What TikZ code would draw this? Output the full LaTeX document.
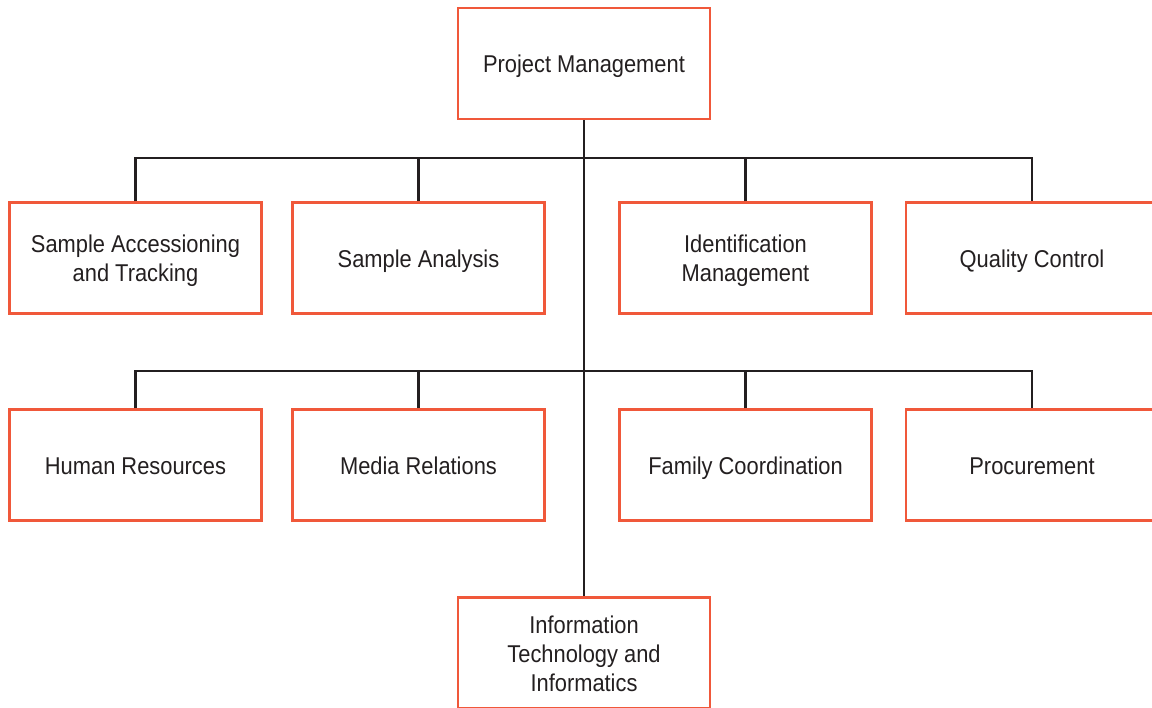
\documentclass[tikz,border=0pt]{standalone}
\usepackage{fontspec}
\setmainfont{Liberation Sans}[FakeStretch=0.9]
\definecolor{boxred}{HTML}{F0583A}
\definecolor{txt}{HTML}{231F20}
\newcommand{\tstrut}{\rule{0pt}{24pt}}
\newcommand{\bstrut}{\rule[-5pt]{0pt}{5pt}}
\begin{document}
\begin{tikzpicture}[x=1pt,y=-1pt,
  orgbox/.style={draw=boxred,line width=2.4pt,minimum width=252pt,minimum height=111pt,
    align=center,font=\fontsize{24.3}{29}\selectfont,text=txt,inner sep=0pt},
  link/.style={draw=txt,line width=2.2pt}]
\useasboundingbox (0,0) rectangle (1152,708);
\node[orgbox] (pm) at (584,63.5) {\tstrut Project Management\bstrut};
\node[orgbox] (sat) at (135.5,258) {\tstrut Sample Accessioning\\and Tracking\bstrut};
\node[orgbox] (sa) at (418.5,258) {\tstrut Sample Analysis\bstrut};
\node[orgbox] (im) at (745.5,258) {\tstrut Identification\\Management\bstrut};
\node[orgbox] (qc) at (1032,258) {\tstrut Quality Control\bstrut};
\node[orgbox] (hr) at (135.5,465) {\tstrut Human Resources\bstrut};
\node[orgbox] (mr) at (418.5,465) {\tstrut Media Relations\bstrut};
\node[orgbox] (fc) at (745.5,465) {\tstrut Family Coordination\bstrut};
\node[orgbox] (pr) at (1032,465) {\tstrut Procurement\bstrut};
\node[orgbox] (it) at (584,653) {\tstrut Information\\Technology and\\Informatics\bstrut};
\coordinate (b1) at (584,158);
\coordinate (b2) at (584,371);
\draw[link] (pm.south) -- (it.north);
\draw[link] (sat.north) |- (b1) -| (qc.north);
\draw[link] (sa.north) -- (sa.north |- b1);
\draw[link] (im.north) -- (im.north |- b1);
\draw[link] (hr.north) |- (b2) -| (pr.north);
\draw[link] (mr.north) -- (mr.north |- b2);
\draw[link] (fc.north) -- (fc.north |- b2);
\end{tikzpicture}
\end{document}
